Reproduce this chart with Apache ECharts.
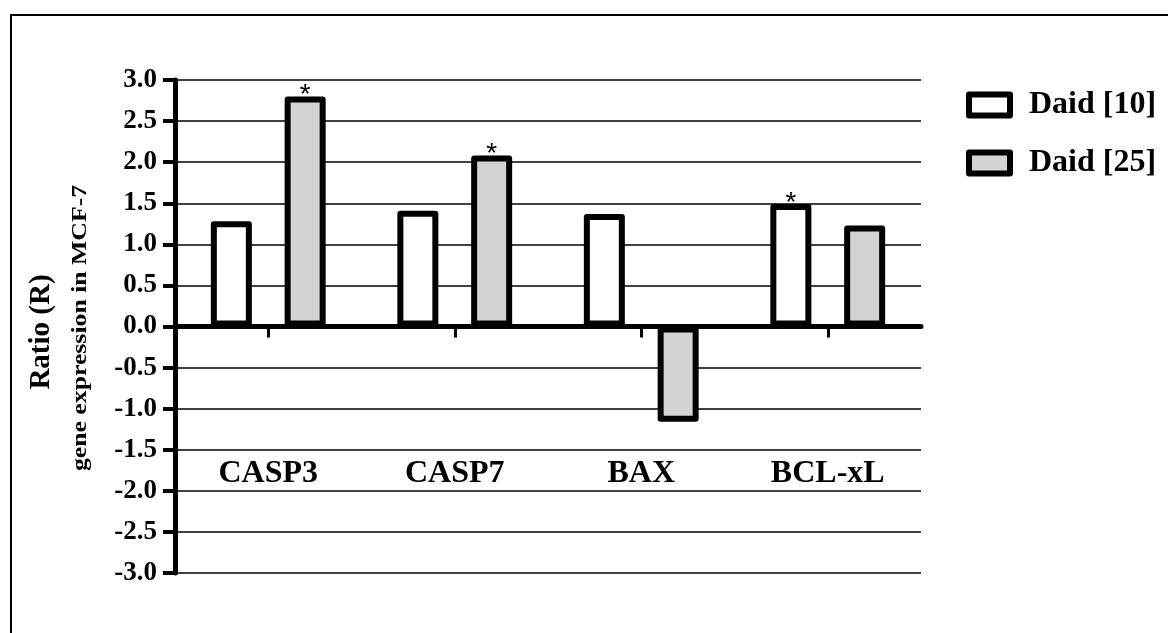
<!DOCTYPE html>
<html>
<head>
<meta charset="utf-8">
<script src="https://cdn.jsdelivr.net/npm/echarts@6/dist/echarts.min.js"></script>
<style>
html,body{margin:0;padding:0;background:#fff;}
#chart{width:1168px;height:633px;}
</style>
</head>
<body>
<div id="chart"></div>
<script>
var categories = ['CASP3', 'CASP7', 'BAX', 'BCL-xL'];
var seriesNames = ['Daid [10]', 'Daid [25]'];
var daid10 = [1.28, 1.41, 1.37, 1.49];
var daid25 = [2.80, 2.08, -1.16, 1.23];
var sig10 = [false, false, false, true];
var sig25 = [true, true, false, false];
var yMin = -3.0, yMax = 3.0, yStep = 0.5;

var SERIF = '"Liberation Serif", "Times New Roman", serif';

function build(vals, sig) {
  return vals.map(function (v, i) {
    return sig[i] ? { value: v, label: { show: true } } : { value: v };
  });
}

var chart = echarts.init(document.getElementById('chart'), null, { renderer: 'canvas' });

var starLabel = {
  show: false,
  position: 'top',
  distance: -13,
  formatter: '*',
  color: '#000',
  fontFamily: '"Liberation Sans", Arial, sans-serif',
  fontSize: 28
};

chart.setOption({
  backgroundColor: '#fff',
  animation: false,
  grid: { left: 175, right: 247, top: 80, bottom: 60, containLabel: false, outerBoundsMode: 'none' },
  legend: {
    data: seriesNames,
    orient: 'vertical',
    left: 961,
    top: 84,
    icon: 'rect',
    itemWidth: 41,
    itemHeight: 21,
    itemGap: 26,
    itemStyle: { borderColor: '#000', borderWidth: 6 },
    textStyle: {
      fontFamily: SERIF, fontWeight: 'bold', fontSize: 32, color: '#000',
      lineHeight: 30, padding: [0, 0, 0, 14]
    }
  },
  xAxis: {
    type: 'category',
    data: categories,
    axisLine: { onZero: true, lineStyle: { color: '#000', width: 5 } },
    axisTick: { show: true, alignWithLabel: true, length: 11, lineStyle: { color: '#000', width: 3 } },
    axisLabel: {
      margin: -115,
      fontFamily: SERIF, fontWeight: 'bold', fontSize: 32, color: '#000'
    },
    splitLine: { show: false }
  },
  yAxis: {
    type: 'value',
    min: yMin, max: yMax, interval: yStep,
    axisLine: { show: true, lineStyle: { color: '#000', width: 5 } },
    axisTick: { show: true, length: 12, lineStyle: { color: '#000', width: 4 } },
    axisLabel: {
      margin: 18,
      formatter: function (v) { return v.toFixed(1); },
      fontFamily: SERIF, fontWeight: 'bold', fontSize: 27, color: '#000'
    },
    splitLine: { show: true, lineStyle: { color: '#000', width: 1.5 } }
  },
  series: [
    {
      name: seriesNames[0], type: 'bar', data: build(daid10, sig10),
      barWidth: 41, barGap: '80%',
      itemStyle: { color: '#ffffff', borderColor: '#000', borderWidth: 6, borderJoin: 'round' },
      label: starLabel
    },
    {
      name: seriesNames[1], type: 'bar', data: build(daid25, sig25),
      barWidth: 41, barGap: '80%',
      itemStyle: { color: '#d3d3d3', borderColor: '#000', borderWidth: 6, borderJoin: 'round' },
      label: starLabel
    }
  ],
  graphic: [
    {
      type: 'rect', silent: true, z: -1,
      shape: { x: 11, y: 15, width: 1200, height: 700 },
      style: { fill: 'none', stroke: '#000', lineWidth: 2 }
    },
    {
      type: 'text', silent: true,
      x: 42, y: 332, rotation: Math.PI / 2,
      style: {
        text: 'Ratio (R)', fontFamily: SERIF, fontWeight: 'bold', fontSize: 29,
        fill: '#000', align: 'center', verticalAlign: 'middle'
      }
    },
    {
      type: 'text', silent: true,
      x: 80, y: 328, rotation: Math.PI / 2, scaleX: 1.17,
      style: {
        text: 'gene expression in MCF-7', fontFamily: SERIF, fontWeight: 'bold', fontSize: 22,
        fill: '#000', align: 'center', verticalAlign: 'middle'
      }
    }
  ]
});
</script>
</body>
</html>
